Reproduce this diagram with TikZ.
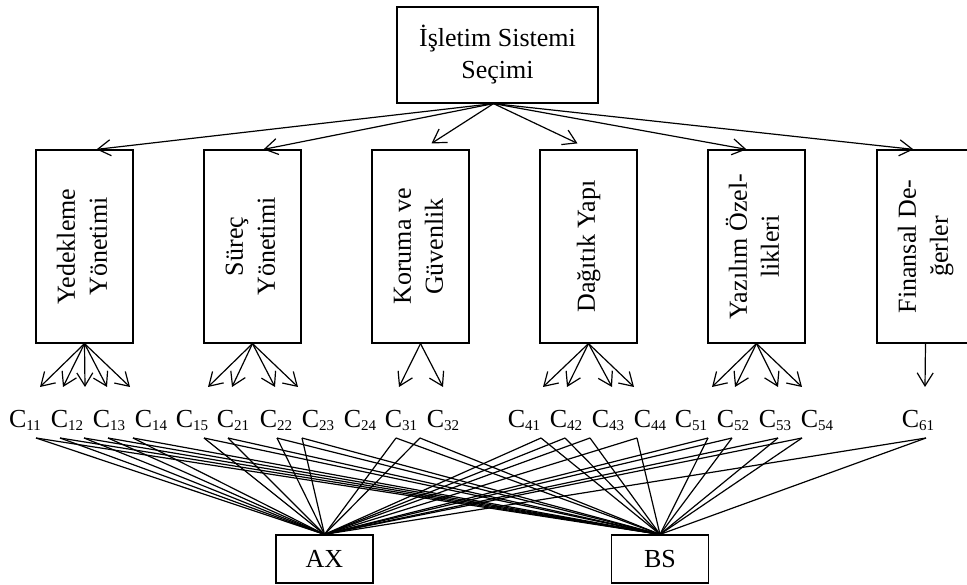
\documentclass[tikz,border=0pt]{standalone}
\usepackage{fontspec}
\setmainfont{Liberation Serif}
\usepackage{graphicx}
\usetikzlibrary{arrows.meta}
\tikzset{every node/.style={font=\fontsize{26}{32}\selectfont,inner sep=0pt},
  box/.style={draw,line width=1.2pt},
  topbox/.style={box,minimum width=201pt,minimum height=96pt,align=center},
  critbox/.style={box,minimum width=97pt,minimum height=193pt},
  altbox/.style={box,minimum width=97pt,minimum height=48pt},
  crit/.style={anchor=base},
  arr/.style={-{Straight Barb[length=13pt,width=16pt]}}}
\newcommand{\critlabel}[1]{C\raisebox{-3pt}{\fontsize{15}{15}\selectfont #1}}
\newcommand{\sidetext}[1]{\rotatebox{90}{\begin{tabular}{@{}c@{}}#1\end{tabular}}}

\begin{document}
\begin{tikzpicture}[x=1pt,y=-1pt,line width=1.2pt]
      \useasboundingbox (0,0) rectangle (967,585);
      \clip (0,0) rectangle (967,585);
      \node[topbox] (top) at (497.5,55) {İşletim Sistemi\\Seçimi};
      \coordinate (apex) at ([xshift=-4pt]top.south);
      \node[critbox] (b1) at (84.5,246.5) {\sidetext{Yedekleme\\Yönetimi}};
      \node[critbox] (b2) at (252.5,246.5) {\sidetext{Süreç\\Yönetimi}};
      \node[critbox] (b3) at (420.5,246.5) {\sidetext{Koruma ve\\Güvenlik}};
      \node[critbox] (b4) at (588.5,246.5) {\sidetext{Dağıtık Yapı}};
      \node[critbox] (b5) at (756.5,246.5) {\sidetext{Yazılım Özel-\\likleri}};
      \node[critbox] (b6) at (925.5,246.5) {\sidetext{Finansal De-\\ğerler}};
      \node[altbox] (ax) at (324.5,559) {AX};
      \node[altbox] (bs) at (660,559) {BS};

      \foreach \b/\dx/\dy in {b1/12/0,b2/11/0,b3/11/6,b4/-11/6,b5/-10/0,b6/-12/0}
        \draw[arr] (apex) -- ([xshift=\dx pt,yshift=\dy pt]\b.north);

      % criterion / arrow tip / line start
      \foreach \n/\b/\lx/\ax/\sx in {11/1/25/40/36,12/1/67/63/60,13/1/109/85/84,14/1/151/107/108,15/1/192/130/133,
          21/2/233/208/204,22/2/276/232/228,23/2/318/275/277,24/2/360/298/302,
          31/3/401/399/396,32/3/443/443/420,
          41/4/524/543/541,42/4/566/567/565,43/4/608/612/590,44/4/650/634/637,
          51/5/691/712/708,52/5/733/735/732,53/5/775/778/778,54/5/817/802/802,
          61/6/918/925/926}
      {
        \node[crit] (c\n) at (\lx,427) {\critlabel{\n}};
        \coordinate (a\n) at (\ax,387);
        \coordinate (s\n) at (\sx,438);
        \draw[arr] (b\b.south) -- (a\n);
        \draw (s\n) -- (ax.north);
        \draw (s\n) -- (bs.north);
      }
    \end{tikzpicture}
\end{document}
